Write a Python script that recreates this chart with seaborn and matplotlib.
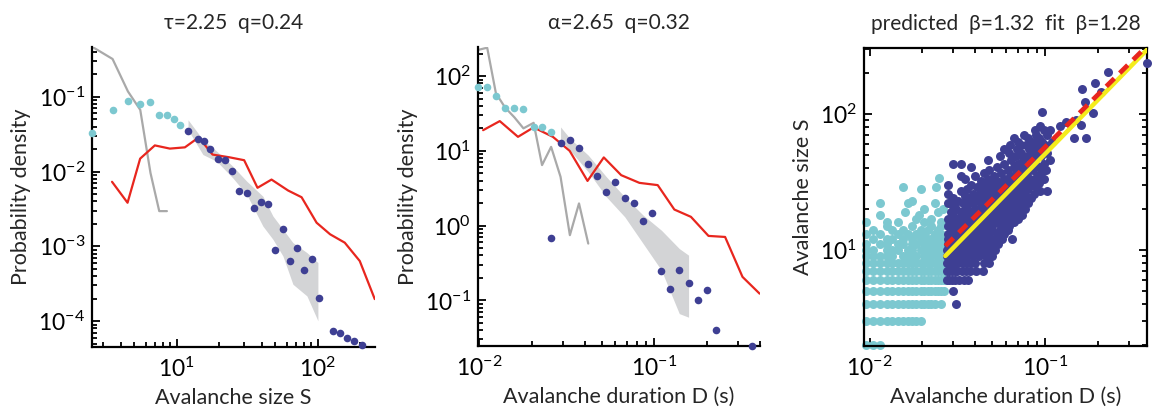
import numpy as np
import pandas as pd
import matplotlib
matplotlib.use("Agg")
import matplotlib.pyplot as plt
from matplotlib import font_manager
from matplotlib.ticker import FixedLocator, FixedFormatter, LogLocator, NullFormatter
import seaborn as sns

# ---------------- Size distribution ----------------
size_small = [2.5, 3.5, 4.5, 5.5, 6.5, 7.5, 8.5, 9.5, 10.5]
pdf_size_small = [0.0328, 0.067, 0.0885, 0.0807, 0.085, 0.058, 0.0564, 0.0504, 0.0419]
size_fit = [12.0, 14.1, 15.6, 17.1, 19.6, 22.1, 24.7, 27.7, 31.2, 35.3, 39.4, 44.0,
            49.8, 56.2, 63.0, 70.6, 79.2, 90.2, 101, 127, 142.5, 160.6, 180, 204]
pdf_size_fit = [0.0345, 0.0275, 0.0254, 0.020, 0.0148, 0.0142, 0.0101, 0.00547, 0.0052,
                0.00328, 0.00386, 0.00363, 0.000885, 0.00172, 0.000637, 0.00096,
                0.000489, 0.000686, 0.000203, 7.43e-5, 6.98e-5, 5.88e-5, 5.41e-5, 4.83e-5]
size_shuffled = [2.5, 3.5, 4.5, 5.5, 6.5, 7.5, 8.5]
pdf_size_shuffled = [0.469, 0.321, 0.118, 0.067, 0.0096, 0.00296, 0.00296]
size_ctrl = [3.47, 4.47, 5.49, 6.98, 8.92, 11.4, 14.3, 17.9, 23.7, 30.0, 37.3, 46.9,
             61.5, 76.6, 97.9, 122, 155, 198, 253]
pdf_size_ctrl = [0.0073, 0.00383, 0.0149, 0.0224, 0.0203, 0.0211, 0.0287, 0.0169, 0.0155,
                 0.0142, 0.00607, 0.00782, 0.00558, 0.00454, 0.00207, 0.00145, 0.00112,
                 0.000637, 0.000197]
size_band = [12.0, 15.3, 19.2, 24.9, 31.3, 40.7, 48.0, 56.5, 66.5, 83.6, 100]
size_band_hi = [0.0493, 0.0267, 0.0187, 0.0118, 0.00743, 0.00469, 0.00254, 0.00169,
                0.00112, 0.000824, 0.000607]
size_band_lo = [0.0363, 0.0169, 0.0137, 0.00824, 0.00493, 0.00187, 0.00124, 0.000743,
                0.000311, 0.000217, 0.000101]

# ---------------- Duration distribution ----------------
dur_small = [0.00983, 0.01115, 0.0125, 0.0141, 0.01595, 0.01794, 0.0205, 0.0229, 0.0258]
pdf_dur_small = [71.9, 71.9, 54, 37.6, 37.6, 36.5, 20.9, 20.9, 17.6]
dur_fit = [0.0258, 0.0292, 0.033, 0.0372, 0.042, 0.0472, 0.0533, 0.0598, 0.0678, 0.0767,
           0.0863, 0.0975, 0.1097, 0.1234, 0.1387, 0.1567, 0.178, 0.200, 0.226, 0.362]
pdf_dur_fit = [0.693, 12.6, 13.9, 11.0, 6.58, 4.63, 2.83, 3.85, 2.35, 2.0, 1.135, 1.48,
               0.248, 0.144, 0.258, 0.171, 0.1025, 0.1365, 0.0398, 0.0243]
dur_shuffled = [0.00983, 0.01115, 0.0125, 0.0141, 0.01595, 0.01794, 0.0205, 0.0229,
                0.0258, 0.0292, 0.033, 0.0372, 0.042]
pdf_dur_shuffled = [223, 240, 59, 38, 28, 20, 23.7, 6.45, 11.3, 4.49, 0.745, 1.98, 0.575]
dur_ctrl = [0.01057, 0.01315, 0.0167, 0.0205, 0.0264, 0.0329, 0.0416, 0.0515, 0.0647,
            0.0822, 0.1045, 0.130, 0.1616, 0.2035, 0.253, 0.318, 0.398]
pdf_dur_ctrl = [18.9, 25, 15.4, 20.6, 15.4, 10.0, 3.96, 8.17, 4.73, 3.73, 3.48, 1.64,
                1.31, 0.728, 0.705, 0.206, 0.123]
dur_band = [0.0292, 0.033, 0.042, 0.0533, 0.0678, 0.0863, 0.1097, 0.1387, 0.1567]
dur_band_hi = [20.9, 14.7, 8.75, 4.49, 2.42, 1.38, 0.867, 0.493, 0.402]
dur_band_lo = [13.9, 10.2, 5.24, 2.42, 1.31, 0.575, 0.253, 0.0665, 0.0595]

# ---------------- Size vs duration (durations in ms) ----------------
short_rows_S = [2, 3, 4, 5, 6, 7, 8, 9, 10, 11, 12, 13, 14, 15, 16, 17, 18, 19, 20, 22, 23, 28, 29, 34]
short_rows_D = [
    [9.5, 10.5, 11.5],
    [9.5, 10.5, 11.5, 12.5, 13.5, 14.5, 15.5, 16.5, 17.5, 18.5, 19.5],
    [9.5, 10.5, 11.5, 12.5, 13.5, 14.5, 15.5, 16.5, 17.5, 18.5, 19.5, 20.5, 21.5, 22.5, 23.5, 25.5],
    [9.5, 10.5, 11.5, 12.5, 13.5, 14.5, 15.5, 16.5, 17.5, 18.5, 19.5, 20.5, 21.5, 22.5, 23.5, 24.5, 25.5, 26.5],
    [9.5, 10.5, 11.5, 12.5, 13.5, 14.5, 15.5, 16.5, 17.5, 18.5, 19.5, 20.5, 21.5, 22.5, 23.5, 24.5, 25.5, 26.5],
    [9.5, 10.5, 11.5, 12.5, 13.5, 14.5, 15.5, 16.5, 17.5, 18.5, 19.5, 20.5, 21.5, 22.5, 23.5, 24.5, 25.5, 26.5],
    [9.5, 10.5, 11.5, 12.5, 13.5, 14.5, 15.5, 16.5, 17.5, 18.5, 19.5, 20.5, 21.5, 22.5, 23.5, 24.5, 25.5, 26.5],
    [9.5, 10.5, 11.5, 12.5, 13.5, 15.5, 16.5, 17.5, 18.5, 20.5, 21.5, 22.5, 24.5, 25.5, 26.5],
    [9.5, 10.5, 12.5, 13.5, 14.5, 16.5, 17.5, 19.5, 20.5, 21.5, 23.5, 24.5, 26.5],
    [9.5, 11.5, 12.5, 14.5, 15.5, 17.5, 18.5, 20.5, 22.5, 23.5, 25.5, 26.5],
    [10.5, 12.5, 13.5, 15.5, 17.5, 19.5, 21.5, 22.5, 24.5, 26.5],
    [9.5, 11.5, 14.5, 16.5, 18.5, 20.5, 23.5, 25.5],
    [10.5, 13.5, 15.5, 19.5, 21.5, 24.5],
    [12.5, 17.5, 22.5, 25.5],
    [9.5, 12.5, 14.5, 20.5, 25.5],
    [18.5, 22.5],
    [11.5, 19.0],
    [16.0, 24.5],
    [20.5, 26.3],
    [11.5, 16.5, 23.5],
    [17.5],
    [19.5],
    [15.5, 24.0],
    [25.0],
]
long_rows_S = [4, 5, 6, 7, 8, 9, 10, 11, 12, 13, 14, 15, 16, 17, 18, 19, 20, 21, 22, 23, 24,
               25, 26, 27, 28, 29, 30, 31, 32, 33, 35, 37, 39, 41, 43, 46, 49, 52, 55, 59,
               62, 66, 70, 76, 81, 83, 87, 90, 101, 104, 123, 146, 152, 168, 202, 236]
long_rows_D = [
    [31], [30],
    [27.5, 28.5, 29.5, 30.5, 32.5, 34.5, 36.5],
    [27.5, 28.5, 29.5, 30.5, 31.5, 33.5, 35.5, 37.5, 40.5, 44],
    [27.5, 28.5, 29.5, 30.5, 32, 34, 36, 38, 40, 45, 48],
    [27.5, 29, 30.5, 32, 34, 36, 39, 42, 46, 50],
    [27.5, 29, 31, 33, 35, 37, 40, 43, 47, 52],
    [28, 30, 32, 34, 37, 39, 42, 45, 49, 54],
    [28, 30, 33, 36, 39, 41, 44, 48, 52, 57, 65],
    [28, 31, 34, 37, 40, 44, 48, 53, 58],
    [29, 32, 35, 39, 42, 46, 50, 55, 61],
    [28, 31, 34, 38, 41, 45, 50, 56, 62],
    [29, 33, 36, 40, 44, 48, 53, 58, 66],
    [28, 32, 35, 39, 43, 47, 52, 57, 63, 70],
    [30, 34, 37, 42, 46, 51, 55, 60, 68, 74],
    [29, 33, 38, 41, 45, 49, 54, 59, 64, 72],
    [31, 35, 40, 44, 48, 53, 57, 62, 70, 77],
    [30, 36, 43, 47, 50, 56, 61, 66, 75],
    [28, 34, 39, 45, 52, 59, 64, 71, 80],
    [32, 38, 42, 49, 55, 62, 68, 76],
    [30, 37, 44, 51, 58, 65, 73, 83],
    [35, 41, 47, 54, 60, 69, 78],
    [28, 39, 45, 52, 63, 72, 86],
    [33, 43, 50, 57, 66, 75, 94, 103],
    [36, 47, 55, 61, 70, 80],
    [41, 52, 59, 68, 77, 89],
    [28, 38, 45, 64, 73, 84],
    [49, 56, 62, 71, 81, 92],
    [43, 53, 67, 76, 87],
    [35, 47, 58, 70, 82, 98],
    [33, 40, 51, 63, 74, 90],
    [45, 56, 68, 79, 95],
    [48, 61, 72, 85, 101],
    [38, 53, 66, 77, 92],
    [30, 33, 58, 70, 83, 98],
    [47, 64, 75, 88, 106],
    [55, 68, 80, 95],
    [62, 73, 86, 103],
    [58, 69, 81, 93],
    [63, 73, 78, 88, 100],
    [70, 84, 96, 110],
    [66, 80, 92, 145, 171],
    [76, 89, 103],
    [88, 98, 107],
    [93, 122], [160], [131], [150], [188], [96], [168], [209], [161], [192], [229], [378],
]
beta_pred = 1.32
beta_fit = 1.28
amp_pred = 1064.0
amp_fit = 1090.0
fit_range = [0.027, 0.40]

CYAN = "#7CC8D0"
NAVY = "#3E3F93"
RED = "#E8261E"
GREY_LINE = "#A9A9A9"
BAND = "#D3D4D6"
YELLOW = "#F4EC1C"


def flatten(rows_S, rows_D):
    S, D = [], []
    for s, ds in zip(rows_S, rows_D):
        S += [s] * len(ds)
        D += [d / 1000.0 for d in ds]
    return D, S


sns.set_theme(style="ticks")
names = {f.name for f in font_manager.fontManager.ttflist}
base = "Liberation Sans Narrow" if "Liberation Sans Narrow" in names else "Lato"
plt.rcParams["font.family"] = [base, "DejaVu Sans"]
plt.rcParams["mathtext.fontset"] = "custom"
plt.rcParams["mathtext.rm"] = base
plt.rcParams["mathtext.it"] = base
plt.rcParams["mathtext.default"] = "regular"
plt.rcParams["axes.linewidth"] = 1.6
plt.rcParams["axes.edgecolor"] = "black"

fig = plt.figure(figsize=(11.61, 4.19), dpi=100)
fig.patch.set_facecolor("white")
ax1 = fig.add_axes([0.0792, 0.1718, 0.2438, 0.716])
ax2 = fig.add_axes([0.4117, 0.1742, 0.2429, 0.7136])
ax3 = fig.add_axes([0.7442, 0.1742, 0.2438, 0.7112])

LABEL_FS = 15.5
TICK_FS = 16.5
TITLE_FS = 15
DOT = 30


def style_axes(ax, xmaj, xlab, ymaj, ylab, boxed=False):
    ax.set_xscale("log")
    ax.set_yscale("log")
    ax.xaxis.set_major_locator(FixedLocator(xmaj))
    ax.xaxis.set_major_formatter(FixedFormatter(xlab))
    ax.yaxis.set_major_locator(FixedLocator(ymaj))
    ax.yaxis.set_major_formatter(FixedFormatter(ylab))
    for axis in (ax.xaxis, ax.yaxis):
        axis.set_minor_locator(LogLocator(base=10, subs=np.arange(2, 10), numticks=30))
        axis.set_minor_formatter(NullFormatter())
    ax.tick_params(which="both", direction="in", top=boxed, right=boxed,
                   width=1.3, colors="black", labelsize=TICK_FS)
    ax.tick_params(which="major", length=6)
    ax.tick_params(which="minor", length=3.5)
    ax.tick_params(axis="x", pad=7)
    ax.tick_params(axis="y", pad=5)
    for side in ("top", "right"):
        ax.spines[side].set_visible(boxed)
    ax.set_facecolor("white")
    ax.grid(False)


# ---- Panel 1: size distribution ----
ax1.set_xscale("log")
ax1.set_yscale("log")
ax1.fill_between(size_band, size_band_lo, size_band_hi, color=BAND, lw=0, zorder=1)
sns.lineplot(x=size_shuffled, y=pdf_size_shuffled, color=GREY_LINE, lw=1.6,
             estimator=None, sort=False, ax=ax1, zorder=2)
sns.lineplot(x=size_ctrl, y=pdf_size_ctrl, color=RED, lw=1.6,
             estimator=None, sort=False, ax=ax1, zorder=3)
sns.scatterplot(x=size_small, y=pdf_size_small, color=CYAN, s=DOT, linewidth=0,
                ax=ax1, zorder=4, clip_on=False)
sns.scatterplot(x=size_fit, y=pdf_size_fit, color=NAVY, s=DOT, linewidth=0,
                ax=ax1, zorder=4, clip_on=False)
ax1.set_xlim(2.5, 254)
ax1.set_ylim(4.5e-5, 0.464)
style_axes(ax1, [10, 100], [r"$10^{1}$", r"$10^{2}$"],
           [1e-4, 1e-3, 1e-2, 1e-1],
           [r"$10^{-4}$", r"$10^{-3}$", r"$10^{-2}$", r"$10^{-1}$"])
ax1.set_xlabel("Avalanche size S", fontsize=LABEL_FS, labelpad=5)
ax1.set_ylabel("Probability density", fontsize=LABEL_FS, labelpad=5)
ax1.set_title("\u03c4=2.25  q=0.24", fontsize=TITLE_FS, pad=13)

# ---- Panel 2: duration distribution ----
ax2.set_xscale("log")
ax2.set_yscale("log")
ax2.fill_between(dur_band, dur_band_lo, dur_band_hi, color=BAND, lw=0, zorder=1)
sns.lineplot(x=dur_shuffled, y=pdf_dur_shuffled, color=GREY_LINE, lw=1.6,
             estimator=None, sort=False, ax=ax2, zorder=2)
sns.lineplot(x=dur_ctrl, y=pdf_dur_ctrl, color=RED, lw=1.6,
             estimator=None, sort=False, ax=ax2, zorder=3)
sns.scatterplot(x=dur_small, y=pdf_dur_small, color=CYAN, s=DOT, linewidth=0,
                ax=ax2, zorder=4, clip_on=False)
sns.scatterplot(x=dur_fit, y=pdf_dur_fit, color=NAVY, s=DOT, linewidth=0,
                ax=ax2, zorder=4, clip_on=False)
ax2.set_xlim(0.00988, 0.4)
ax2.set_ylim(0.0245, 245)
style_axes(ax2, [0.01, 0.1], [r"$10^{-2}$", r"$10^{-1}$"],
           [0.1, 1, 10, 100],
           [r"$10^{-1}$", r"$10^{0}$", r"$10^{1}$", r"$10^{2}$"])
ax2.set_xlabel("Avalanche duration D (s)", fontsize=LABEL_FS, labelpad=5)
ax2.set_ylabel("Probability density", fontsize=LABEL_FS, labelpad=5)
ax2.set_title("\u03b1=2.65  q=0.32", fontsize=TITLE_FS, pad=13)

# ---- Panel 3: size vs duration ----
short_D, short_S = flatten(short_rows_S, short_rows_D)
long_D, long_S = flatten(long_rows_S, long_rows_D)
ax3.set_xscale("log")
ax3.set_yscale("log")
sns.scatterplot(x=short_D, y=short_S, color=CYAN, s=42, linewidth=0,
                ax=ax3, zorder=2, clip_on=False)
sns.scatterplot(x=long_D, y=long_S, color=NAVY, s=42, linewidth=0,
                ax=ax3, zorder=3, clip_on=False)
line_D = np.array(fit_range)
sns.lineplot(x=line_D, y=amp_pred * line_D ** beta_pred, color=YELLOW, lw=3.2,
             estimator=None, ax=ax3, zorder=4)
ax3.plot(line_D, amp_fit * line_D ** beta_fit, color=RED, lw=3.4,
         linestyle=(0, (2.4, 1.6)), zorder=5, solid_capstyle="butt")
ax3.set_xlim(0.0093, 0.38)
ax3.set_ylim(1.97, 305)
style_axes(ax3, [0.01, 0.1], [r"$10^{-2}$", r"$10^{-1}$"],
           [10, 100], [r"$10^{1}$", r"$10^{2}$"], boxed=True)
ax3.set_xlabel("Avalanche duration D (s)", fontsize=LABEL_FS, labelpad=5)
ax3.set_ylabel("Avalanche size S", fontsize=LABEL_FS, labelpad=5)
ax3.set_title("predicted  \u03b2=1.32  fit  \u03b2=1.28", fontsize=TITLE_FS, pad=13)

fig.savefig("out.png", dpi=100, facecolor="white")
